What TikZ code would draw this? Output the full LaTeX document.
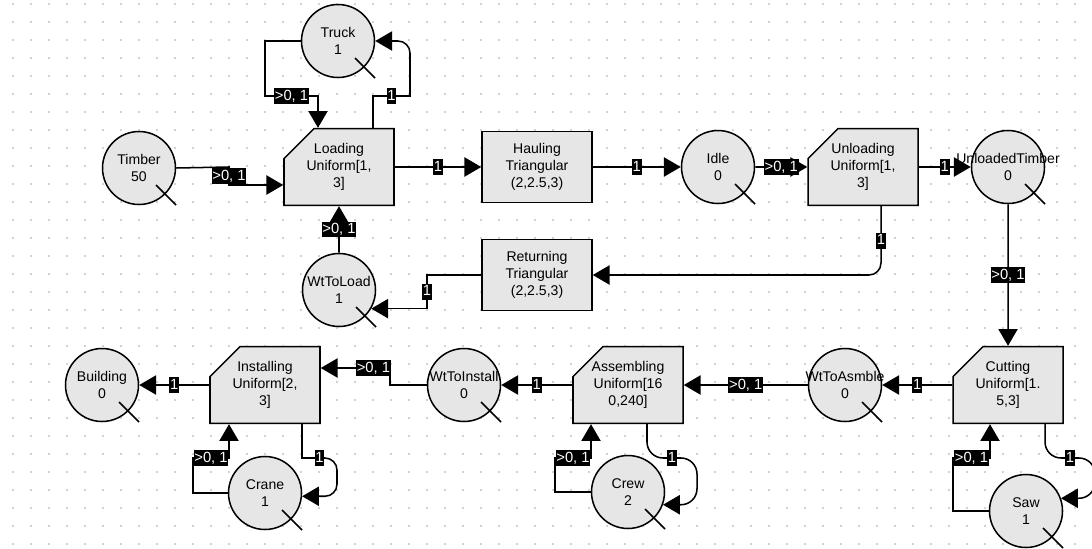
\documentclass[tikz,border=0pt]{standalone}
\usepackage{fontspec}
\setmainfont{Liberation Sans}
\usetikzlibrary{arrows.meta, shapes.misc}
\definecolor{placegray}{RGB}{230,230,230}
\definecolor{dotgray}{RGB}{165,165,165}
\newcommand\placetext[2]{\makebox[0pt]{#1}\\#2}
\tikzset{every node/.style={font=\fontsize{10}{12}\selectfont}}
\tikzset{placenode/.style={circle,draw,fill=placegray,line width=0.38mm,minimum size=18.25mm,inner sep=0pt,align=center}}
\tikzset{transnode/.style={rectangle,draw,fill=placegray,line width=0.38mm,minimum width=27.5mm,minimum height=17.75mm,inner sep=0pt,align=center}}
\tikzset{chamfnode/.style={transnode,chamfered rectangle,chamfered rectangle corners=north west,chamfered rectangle xsep=3.75mm,chamfered rectangle ysep=3.75mm}}
\tikzset{wlab/.style={fill=black,text=white,sharp corners,font=\fontsize{10.5}{12}\selectfont,inner xsep=0.6pt,inner ysep=1pt,text height=7.5pt,text depth=1.8pt}}
\tikzset{flow/.style={draw,line width=0.38mm,-{Triangle[length=4.2mm,width=4.8mm]}}}

\begin{document}
\begin{tikzpicture}[x=0.25mm,y=-0.25mm]
    \useasboundingbox (0,0) rectangle (1092,548);
    \clip (0,0) rectangle (1092,548);
    \fill[white] (0,0) rectangle (1092,548);
    % dotted grid
    \foreach \i in {0,...,60}
        \foreach \j in {0,...,30}
            \fill[dotgray] (13+18*\i,4+18*\j) circle[radius=0.22mm];

    % top row
    \node[placenode](Truck) at (338,41) {Truck\\1};
    \node[placenode](Timber) at (139,168) {Timber\\50};
    \node[chamfnode](Loading) at (339,167) {Loading\\Uniform[1,\\3]};
    \node[transnode](Hauling) at (537,167) {Hauling\\Triangular\\(2,2.5,3)};
    \node[placenode](Idle) at (718,167) {Idle\\0};
    \node[chamfnode](Unloading) at (863,167) {Unloading\\Uniform[1,\\3]};
    \node[placenode](UnloadedTimber) at (1008,167) {\placetext{UnloadedTimber}{0}};
    \node[transnode](Returning) at (537,275) {Returning\\Triangular\\(2,2.5,3)};
    \node[placenode](WtToLoad) at (339,290) {\placetext{WtToLoad}{1}};

    % bottom row
    \node[chamfnode](Cutting) at (1008,385) {Cutting\\Uniform[1.\\5,3]};
    \node[placenode](WtToAsmble) at (845,385) {\placetext{WtToAsmble}{0}};
    \node[chamfnode](Assembling) at (628,385) {Assembling\\Uniform[16\\0,240]};
    \node[placenode](WtToInstall) at (464,385) {\placetext{WtToInstall}{0}};
    \node[chamfnode](Installing) at (265,385) {Installing\\Uniform[2,\\3]};
    \node[placenode](Building) at (102,385) {Building\\0};
    \node[placenode](Crane) at (265,493) {Crane\\1};
    \node[placenode](Crew) at (628,492) {Crew\\2};
    \node[placenode](Saw) at (1026,511) {Saw\\1};

    % token ticks
    \foreach \p in {Truck,Timber,Idle,UnloadedTimber,WtToLoad,WtToAsmble,WtToInstall,Building,Crane,Crew,Saw}
        \draw[line width=0.38mm] ([shift={(17,17)}]\p.center) -- ++(20,20);

    % arcs of the top row
    \path[flow] (Timber.east) -- (229,167) -- node[wlab]{>0, 1} (229,185) -- (Loading.west |- 0,185);
    \path[flow] (Truck.west) -| (265,96) -- node[wlab]{>0, 1} (318,96) -- (Loading.north -| 318,0);
    \path[flow] (Loading.north -| 373,0) -- (373,96) -- node[wlab]{1} (410,96) [rounded corners=3mm] -- (410,41) -- (Truck.east);
    \path[flow] (Loading) -- node[wlab]{1} (Hauling);
    \path[flow] (Hauling) -- node[wlab]{1} (Idle);
    \path[flow] (Idle) -- node[wlab]{>0, 1} (Unloading);
    \path[flow] (Unloading) -- node[wlab]{1} (UnloadedTimber);
    \path[flow,rounded corners=3mm] (Unloading.south -| 881,0) -- node[wlab]{1} (881,275) -- (Returning.east);
    \path[flow] (Returning.west) -- (427,275) -- node[wlab]{1} (427,0 |- WtToLoad.-30) -- (WtToLoad.-30);
    \path[flow] (WtToLoad) -- node[wlab]{>0, 1} (Loading);
    \path[flow] (UnloadedTimber) -- node[wlab]{>0, 1} (Cutting);

    % arcs of the bottom row
    \path[flow] (Cutting) -- node[wlab]{1} (WtToAsmble);
    \path[flow] (WtToAsmble) -- node[wlab]{>0, 1} (Assembling);
    \path[flow] (Assembling) -- node[wlab]{1} (WtToInstall);
    \path[flow] (WtToInstall.west) -- (390,385) -- (390,368) -- node[wlab,pos=0.24]{>0, 1} (Installing.east |- 0,368);
    \path[flow] (Installing) -- node[wlab]{1} (Building);

    \path[flow] (Crane.west) -| (193,458) -- node[wlab]{>0, 1} (229,458) -- (Installing.south -| 229,0);
    \path[flow] (Installing.south -| 302,0) -- (302,458) [rounded corners=3mm] -- node[wlab]{1} (337,458) -- (337,0 |- Crane.-5) -- (Crane.-5);
    \path[flow] (Crew.west) -| (555,458) -- node[wlab]{>0, 1} (591,458) -- (Assembling.south -| 591,0);
    \path[flow,rounded corners=4mm] (Assembling.south -| 647,0) -- (647,458) -- node[wlab]{1} (697,458) -- (697,0 |- Crew.-20) -- (Crew.-20);
    \path[flow] (Saw.west) -| (953,458) -- node[wlab]{>0, 1} (990,458) -- (Cutting.south -| 990,0);
    \path[flow,rounded corners=4mm] (Cutting.south -| 1045,0) -- (1045,458) -- node[wlab]{1} (1095,458) -- (1095,0 |- Saw.20) -- (Saw.20);
\end{tikzpicture}
\end{document}
